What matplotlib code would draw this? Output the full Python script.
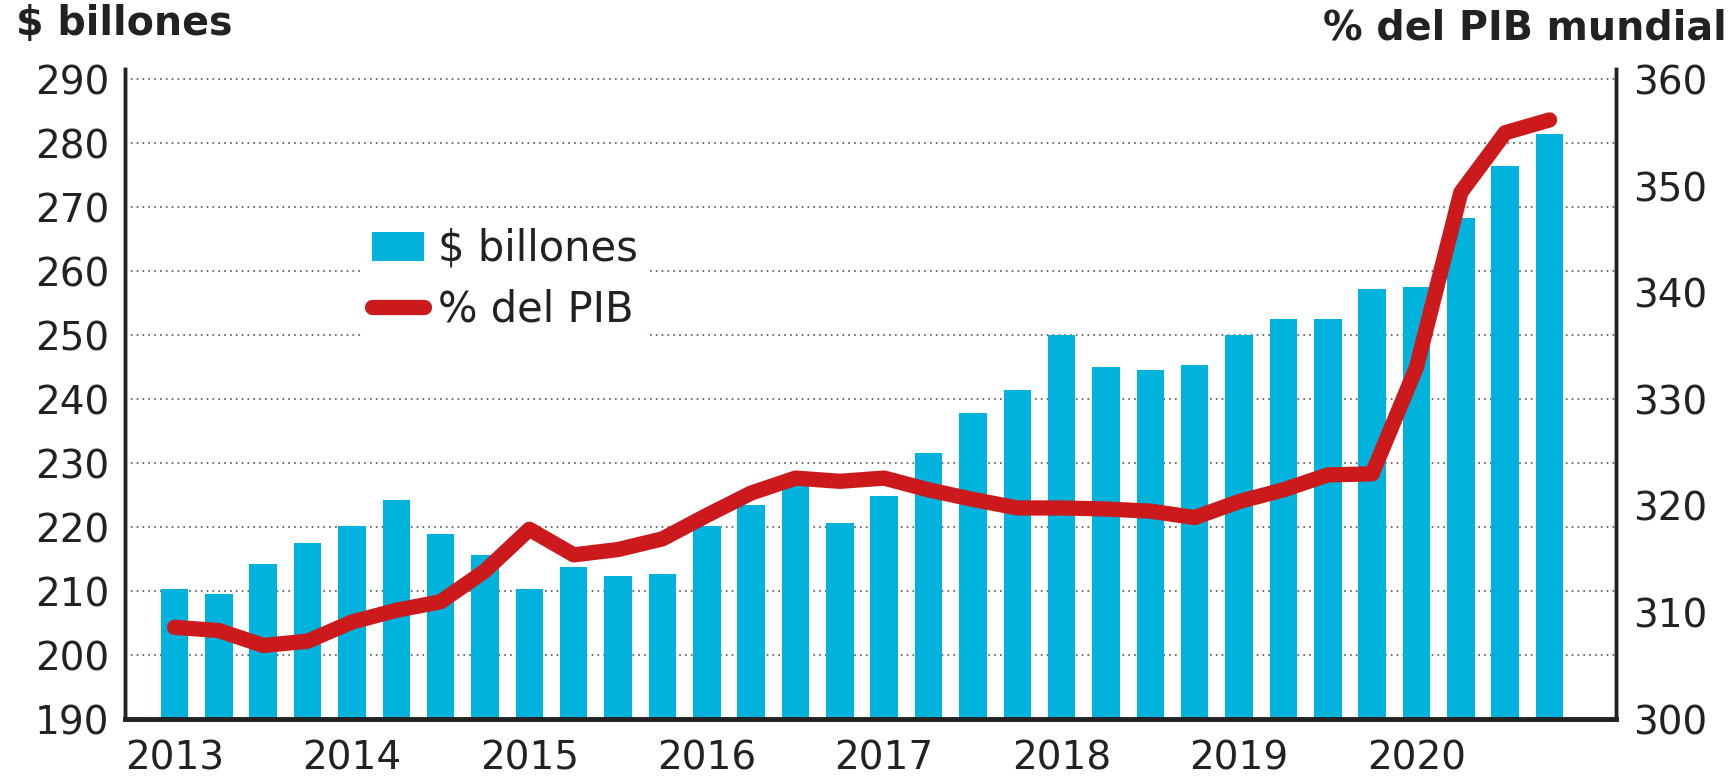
import numpy as np
import matplotlib.pyplot as plt
from matplotlib.patches import Patch
from matplotlib.lines import Line2D

plt.rcParams['font.family'] = ['DejaVu Sans']

# deuda global trimestral 2013-2020
years = ["2013", "2014", "2015", "2016", "2017", "2018", "2019", "2020"]
billones = [210.4, 209.6, 214.3, 217.5, 220.2, 224.2, 218.9, 215.6,
            210.3, 213.8, 212.4, 212.6, 220.1, 223.5, 227.2, 220.6,
            224.9, 231.6, 237.9, 241.4, 250.0, 245.1, 244.5, 245.3,
            250.0, 252.5, 252.5, 257.2, 257.5, 268.4, 276.5, 281.5]
pct_pib = [308.6, 308.3, 306.9, 307.3, 309.1, 310.2, 311.0, 313.9,
           317.8, 315.4, 315.9, 316.9, 319.1, 321.2, 322.6, 322.3,
           322.6, 321.5, 320.6, 319.8, 319.8, 319.7, 319.5, 318.9,
           320.4, 321.5, 322.9, 323.0, 333.0, 349.4, 355.0, 356.2]

azul = '#00B3DC'
rojo = '#CC1A1C'
gris = '#222222'

x = np.arange(len(billones))

fig = plt.figure(figsize=(17.34, 7.79), dpi=100)
ax = fig.add_axes([0.072, 0.077, 0.860, 0.835])
ax2 = ax.twinx()

ax.bar(x, billones, width=0.62, color=azul, zorder=2)
ax.set_ylim(190, 291.7)
ax.set_xlim(-1.12, 32.5)
ax.set_yticks(np.arange(190, 291, 10))
ax.set_axisbelow(True)
ax.yaxis.grid(True, linestyle=(0, (1, 2.5)), color='#555555', linewidth=1.2)
ax.set_xticks(x[::4])
ax.set_xticklabels(years)

ax2.plot(x, pct_pib, color=rojo, linewidth=11, solid_capstyle='round',
         solid_joinstyle='round')
ax2.set_ylim(300, 300 + (291.7 - 190) * 0.6)
ax2.set_yticks(np.arange(300, 361, 10))

for a in (ax, ax2):
    a.spines['top'].set_visible(False)
    a.tick_params(length=0, labelsize=28, colors=gris)
    for s in ('left', 'right', 'bottom'):
        a.spines[s].set_linewidth(2.5)
        a.spines[s].set_color(gris)
ax.spines['bottom'].set_linewidth(3.5)
ax.tick_params(axis='y', pad=11)
ax.tick_params(axis='x', pad=15)
ax2.tick_params(axis='y', pad=12)

handles = [Patch(facecolor=azul, edgecolor='none'),
           Line2D([0], [0], color=rojo, linewidth=11, solid_capstyle='round')]
leg = ax2.legend(handles, ['$ billones', '% del PIB'], loc='upper left',
                 bbox_to_anchor=(0.146, 0.80), fontsize=30, frameon=True,
                 handlelength=1.25, handleheight=0.7, handletextpad=0.35,
                 labelspacing=0.45, borderpad=0.2)
leg.get_frame().set_facecolor('white')
leg.get_frame().set_edgecolor('none')
leg.get_frame().set_alpha(1)
for t in leg.get_texts():
    t.set_color(gris)

fig.text(0.009, 0.969, '$ billones', fontsize=28.5, fontweight='bold',
         color=gris, ha='left', va='center')
fig.text(0.996, 0.964, '% del PIB mundial', fontsize=28.5, fontweight='bold',
         color=gris, ha='right', va='center')

fig.savefig('out.png', dpi=100)
